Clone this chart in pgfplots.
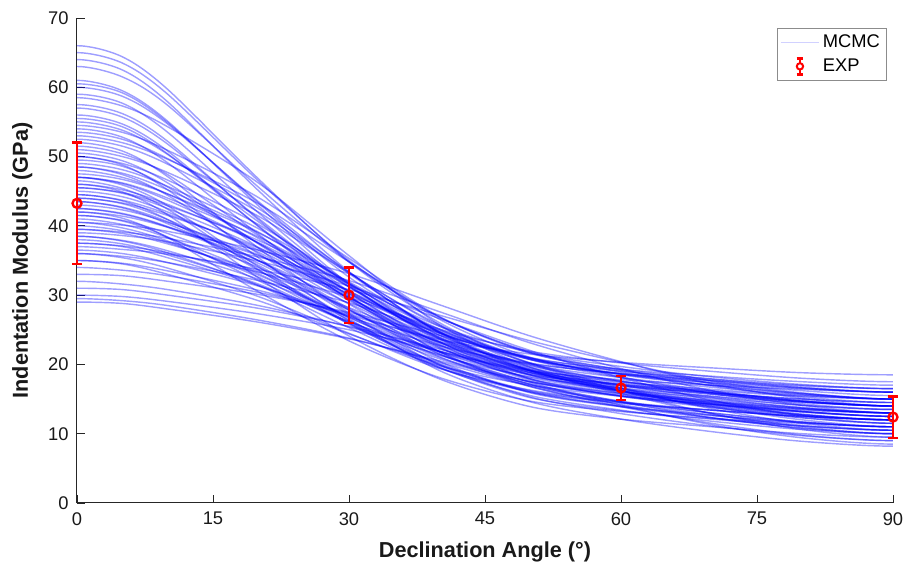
\documentclass[border=0pt]{standalone}
\usepackage{fontspec}
\setmainfont{Liberation Sans}
\usepackage{pgfplots}
\pgfplotsset{compat=1.18}
\pgfplotsset{
  base/.style={at={(0,0)}, anchor=south west,
    scale only axis, width=489.6pt, height=291pt,
    xmin=0, xmax=90, ymin=0, ymax=70},
  mc/.style={blue, opacity=0.38, line width=0.85pt, smooth, no markers, forget plot},
}
\begin{document}
\begin{tikzpicture}
\path[use as bounding box] (-46.2pt,-39.6pt) rectangle (496.8pt,301.8pt);
\begin{axis}[
  base,
  xtick={0,15,...,90}, ytick={0,10,...,70},
  axis x line*=bottom, axis y line*=left,
  axis line style={-, color=black!85, line width=0.6pt},
  tick align=inside, major tick length=5pt,
  tick style={color=black!85, line width=0.5pt},
  ticklabel style={font=\fontsize{11}{13}\selectfont, color=black!90},
  xticklabel style={yshift=-2pt},
  yticklabel style={xshift=-1.5pt},
  /pgf/number format/assume math mode=true,
  xlabel={Declination Angle (°)},
  ylabel={Indentation Modulus (GPa)},
  label style={font=\fontsize{13}{15}\selectfont\bfseries, color=black!90},
  xlabel style={at={(axis description cs:0.5,-0.101)}, anchor=center},
  ylabel style={at={(axis description cs:-0.067,0.5)}, anchor=center},
  clip=true,
]
\addplot[mc] coordinates {(-5,64.4)(0,66)(5,64.4)(10,59.7)(20,46.8)(30,34.8)(40,26.0)(50,20.2)(60,17.6)(70,16.1)(80,14.8)(90,14)(100,14.8)};
\addplot[mc] coordinates {(-5,63.5)(0,65)(5,63.5)(10,59.0)(20,46.5)(30,35.0)(40,26.5)(50,21.0)(60,18.5)(70,17.0)(80,15.8)(90,15)(100,15.8)};
\addplot[mc] coordinates {(-5,62.5)(0,64)(5,62.5)(10,57.9)(20,45.1)(30,33.4)(40,24.7)(50,19.1)(60,16.6)(70,15.0)(80,13.8)(90,13)(100,13.8)};
\addplot[mc] coordinates {(-5,61.5)(0,63)(5,61.5)(10,57.4)(20,45.6)(30,34.8)(40,26.8)(50,21.6)(60,19.3)(70,17.9)(80,16.7)(90,16)(100,16.7)};
\addplot[mc] coordinates {(-5,59.5)(0,61)(5,59.5)(10,55.1)(20,42.9)(30,31.6)(40,23.3)(50,17.9)(60,15.4)(70,14.0)(80,12.7)(90,12)(100,12.7)};
\addplot[mc] coordinates {(-5,59.2)(0,60.5)(5,59.2)(10,54.9)(20,43.3)(30,32.6)(40,24.7)(50,19.6)(60,17.3)(70,15.9)(80,14.7)(90,14)(100,14.7)};
\addplot[mc] coordinates {(-5,58.7)(0,60)(5,58.7)(10,54.7)(20,43.5)(30,33.3)(40,25.7)(50,20.8)(60,18.6)(70,17.3)(80,16.2)(90,15.5)(100,16.2)};
\addplot[mc] coordinates {(-5,57.7)(0,59)(5,57.7)(10,53.5)(20,41.9)(30,31.4)(40,23.6)(50,18.5)(60,16.2)(70,14.8)(80,13.7)(90,13)(100,13.7)};
\addplot[mc] coordinates {(-5,57.3)(0,58.5)(5,57.3)(10,54.3)(20,46.2)(30,35.7)(40,25.7)(50,19.6)(60,16.2)(70,13.9)(80,12.0)(90,11)(100,12.0)};
\addplot[mc] coordinates {(-5,55.7)(0,57)(5,55.7)(10,51.8)(20,41.1)(30,31.2)(40,23.9)(50,19.2)(60,17.0)(70,15.7)(80,14.6)(90,14)(100,14.6)};
\addplot[mc] coordinates {(-5,54.7)(0,56)(5,54.7)(10,50.8)(20,39.9)(30,29.9)(40,22.5)(50,17.7)(60,15.5)(70,14.2)(80,13.2)(90,12.5)(100,13.2)};
\addplot[mc] coordinates {(-5,53.8)(0,55)(5,53.8)(10,50.3)(20,40.6)(30,31.6)(40,25.0)(50,20.7)(60,18.7)(70,17.6)(80,16.6)(90,16)(100,16.6)};
\addplot[mc] coordinates {(-5,52.8)(0,54)(5,52.8)(10,49.1)(20,38.8)(30,29.4)(40,22.4)(50,17.9)(60,15.9)(70,14.6)(80,13.6)(90,13)(100,13.6)};
\addplot[mc] coordinates {(-5,52.0)(0,53)(5,52.0)(10,49.6)(20,43.2)(30,34.8)(40,26.8)(50,21.8)(60,19.2)(70,17.3)(80,15.8)(90,15)(100,15.8)};
\addplot[mc] coordinates {(-5,50.8)(0,52)(5,50.8)(10,47.1)(20,36.8)(30,27.4)(40,20.4)(50,15.9)(60,13.9)(70,12.6)(80,11.6)(90,11)(100,11.6)};
\addplot[mc] coordinates {(-5,50.0)(0,51)(5,50.0)(10,47.7)(20,41.4)(30,33.2)(40,25.5)(50,20.7)(60,18.1)(70,16.2)(80,14.7)(90,14)(100,14.7)};
\addplot[mc] coordinates {(-5,49.0)(0,50)(5,49.0)(10,46.6)(20,40.2)(30,31.8)(40,23.8)(50,18.8)(60,16.2)(70,14.3)(80,12.8)(90,12)(100,12.8)};
\addplot[mc] coordinates {(-5,48.6)(0,49.5)(5,48.6)(10,45.6)(20,37.5)(30,30.1)(40,24.5)(50,20.9)(60,19.3)(70,18.3)(80,17.5)(90,17)(100,17.5)};
\addplot[mc] coordinates {(-5,48.1)(0,49)(5,48.1)(10,45.7)(20,39.6)(30,31.7)(40,24.2)(50,19.5)(60,17.0)(70,15.2)(80,13.7)(90,13)(100,13.7)};
\addplot[mc] coordinates {(-5,47.0)(0,48)(5,47.0)(10,44.6)(20,38.2)(30,29.8)(40,21.8)(50,16.8)(60,14.2)(70,12.3)(80,10.8)(90,10)(100,10.8)};
\addplot[mc] coordinates {(-5,46.7)(0,47.5)(5,46.7)(10,44.6)(20,39.0)(30,31.9)(40,25.1)(50,20.9)(60,18.6)(70,17.0)(80,15.7)(90,15)(100,15.7)};
\addplot[mc] coordinates {(-5,45.9)(0,47)(5,45.9)(10,42.9)(20,34.1)(30,26.0)(40,20.1)(50,16.2)(60,14.5)(70,13.4)(80,12.5)(90,12)(100,12.5)};
\addplot[mc] coordinates {(-5,45.2)(0,46)(5,45.2)(10,43.1)(20,37.6)(30,30.6)(40,23.9)(50,19.8)(60,17.5)(70,15.9)(80,14.6)(90,14)(100,14.6)};
\addplot[mc] coordinates {(-5,44.8)(0,45.5)(5,44.8)(10,42.9)(20,37.9)(30,31.6)(40,25.5)(50,21.7)(60,19.7)(70,18.2)(80,17.1)(90,16.5)(100,17.1)};
\addplot[mc] coordinates {(-5,44.2)(0,45)(5,44.2)(10,42.0)(20,36.2)(30,28.7)(40,21.5)(50,17.1)(60,14.7)(70,13.0)(80,11.7)(90,11)(100,11.7)};
\addplot[mc] coordinates {(-5,43.7)(0,44.5)(5,43.7)(10,41.7)(20,36.5)(30,29.6)(40,23.1)(50,19.1)(60,16.9)(70,15.4)(80,14.1)(90,13.5)(100,14.1)};
\addplot[mc] coordinates {(-5,43.2)(0,44)(5,43.2)(10,40.9)(20,35.0)(30,27.2)(40,19.9)(50,15.3)(60,12.9)(70,11.1)(80,9.7)(90,9)(100,9.7)};
\addplot[mc] coordinates {(-5,42.3)(0,43)(5,42.3)(10,40.5)(20,35.8)(30,29.6)(40,23.7)(50,20.0)(60,18.1)(70,16.7)(80,15.6)(90,15)(100,15.6)};
\addplot[mc] coordinates {(-5,41.7)(0,42.5)(5,41.7)(10,39.8)(20,34.6)(30,27.9)(40,21.5)(50,17.5)(60,15.4)(70,13.8)(80,12.6)(90,12)(100,12.6)};
\addplot[mc] coordinates {(-5,41.4)(0,42)(5,41.4)(10,39.8)(20,35.7)(30,30.2)(40,25.1)(50,21.9)(60,20.2)(70,19.0)(80,18.0)(90,17.5)(100,18.0)};
\addplot[mc] coordinates {(-5,40.2)(0,41)(5,40.2)(10,38.3)(20,33.1)(30,26.4)(40,20.0)(50,16.0)(60,13.9)(70,12.3)(80,11.1)(90,10.5)(100,11.1)};
\addplot[mc] coordinates {(-5,40.1)(0,40.5)(5,40.1)(10,39.2)(20,36.5)(30,33.1)(40,28.6)(50,24.1)(60,20.4)(70,17.2)(80,15.1)(90,14)(100,15.1)};
\addplot[mc] coordinates {(-5,39.3)(0,40)(5,39.3)(10,37.6)(20,32.9)(30,26.8)(40,21.0)(50,17.5)(60,15.5)(70,14.2)(80,13.1)(90,12.5)(100,13.1)};
\addplot[mc] coordinates {(-5,38.9)(0,39.5)(5,38.9)(10,37.4)(20,33.4)(30,28.2)(40,23.3)(50,20.2)(60,18.6)(70,17.4)(80,16.5)(90,16)(100,16.5)};
\addplot[mc] coordinates {(-5,38.6)(0,39)(5,38.6)(10,37.7)(20,34.9)(30,31.3)(40,26.6)(50,22.0)(60,18.1)(70,14.8)(80,12.6)(90,11.5)(100,12.6)};
\addplot[mc] coordinates {(-5,37.4)(0,38)(5,37.4)(10,35.8)(20,31.6)(30,26.0)(40,20.8)(50,17.5)(60,15.8)(70,14.5)(80,13.5)(90,13)(100,13.5)};
\addplot[mc] coordinates {(-5,37.1)(0,37.5)(5,37.1)(10,36.1)(20,33.3)(30,29.7)(40,24.9)(50,20.1)(60,16.2)(70,12.9)(80,10.6)(90,9.5)(100,10.6)};
\addplot[mc] coordinates {(-5,36.6)(0,37)(5,36.6)(10,35.9)(20,33.7)(30,30.8)(40,27.1)(50,23.4)(60,20.3)(70,17.6)(80,15.9)(90,15)(100,15.9)};
\addplot[mc] coordinates {(-5,35.4)(0,36)(5,35.4)(10,33.9)(20,29.8)(30,24.5)(40,19.4)(50,16.3)(60,14.6)(70,13.4)(80,12.5)(90,12)(100,12.5)};
\addplot[mc] coordinates {(-5,34.6)(0,35)(5,34.6)(10,33.5)(20,30.7)(30,27.1)(40,23.6)(50,21.5)(60,20.3)(70,19.5)(80,18.8)(90,18.5)(100,18.8)};
\addplot[mc] coordinates {(-5,33.6)(0,34)(5,33.6)(10,32.8)(20,30.4)(30,27.3)(40,23.2)(50,19.1)(60,15.8)(70,12.9)(80,11.0)(90,10)(100,11.0)};
\addplot[mc] coordinates {(-5,32.8)(0,33)(5,32.8)(10,32.0)(20,30.1)(30,27.5)(40,24.2)(50,20.9)(60,18.2)(70,15.8)(80,14.3)(90,13.5)(100,14.3)};
\addplot[mc] coordinates {(-5,31.6)(0,32)(5,31.6)(10,30.8)(20,28.5)(30,25.4)(40,21.4)(50,17.4)(60,14.1)(70,11.3)(80,9.4)(90,8.5)(100,9.4)};
\addplot[mc] coordinates {(-5,30.8)(0,31)(5,30.8)(10,30.0)(20,28.1)(30,25.5)(40,22.2)(50,18.9)(60,16.2)(70,13.8)(80,12.3)(90,11.5)(100,12.3)};
\addplot[mc] coordinates {(-5,29.8)(0,30)(5,29.8)(10,29.1)(20,27.3)(30,25.0)(40,21.9)(50,18.8)(60,16.3)(70,14.2)(80,12.7)(90,12)(100,12.7)};
\addplot[mc] coordinates {(-5,29.2)(0,29.5)(5,29.2)(10,28.5)(20,26.4)(30,23.8)(40,20.3)(50,16.8)(60,13.9)(70,11.5)(80,9.8)(90,9)(100,9.8)};
\addplot[mc] coordinates {(-5,28.8)(0,29)(5,28.8)(10,28.0)(20,26.1)(30,23.7)(40,20.5)(50,17.2)(60,14.6)(70,12.3)(80,10.8)(90,10)(100,10.8)};
\addplot[mc] coordinates {(-5,42.6)(0,43.5)(5,42.6)(10,40.3)(20,34.3)(30,26.6)(40,19.1)(50,14.6)(60,12.1)(70,10.3)(80,8.9)(90,8.2)(100,8.9)};
\addplot[mc] coordinates {(-5,45.4)(0,46.5)(5,45.4)(10,42.4)(20,33.7)(30,25.8)(40,19.9)(50,16.1)(60,14.4)(70,13.4)(80,12.5)(90,12)(100,12.5)};
\addplot[mc] coordinates {(-5,47.4)(0,48.5)(5,47.4)(10,44.4)(20,36.0)(30,28.1)(40,22.3)(50,18.6)(60,16.9)(70,15.9)(80,15.0)(90,14.5)(100,15.0)};
\addplot[mc] coordinates {(-5,43.3)(0,44)(5,43.3)(10,41.5)(20,36.8)(30,30.6)(40,24.7)(50,21.0)(60,19.1)(70,17.7)(80,16.6)(90,16)(100,16.6)};
\addplot[mc] coordinates {(-5,41.1)(0,42)(5,41.1)(10,38.3)(20,30.5)(30,23.4)(40,18.1)(50,14.7)(60,13.2)(70,12.2)(80,11.5)(90,11)(100,11.5)};
\addplot[mc] coordinates {(-5,40.8)(0,41.5)(5,40.8)(10,38.9)(20,34.0)(30,27.8)(40,21.8)(50,18.1)(60,16.1)(70,14.7)(80,13.6)(90,13)(100,13.6)};
\addplot[mc] coordinates {(-5,46.1)(0,47)(5,46.1)(10,43.7)(20,37.5)(30,29.5)(40,21.8)(50,17.1)(60,14.5)(70,12.7)(80,11.2)(90,10.5)(100,11.2)};
\addplot[mc] coordinates {(-5,49.4)(0,50.5)(5,49.4)(10,46.2)(20,37.4)(30,29.2)(40,23.2)(50,19.3)(60,17.5)(70,16.4)(80,15.5)(90,15)(100,15.5)};
\addplot[mc] coordinates {(-5,37.9)(0,38.5)(5,37.9)(10,36.4)(20,32.3)(30,27.0)(40,21.9)(50,18.8)(60,17.1)(70,15.9)(80,15.0)(90,14.5)(100,15.0)};
\addplot[mc] coordinates {(-5,51.5)(0,52.5)(5,51.5)(10,48.9)(20,42.0)(30,33.1)(40,24.6)(50,19.3)(60,16.5)(70,14.4)(80,12.8)(90,12)(100,12.8)};
\addplot[mc] coordinates {(-5,36.0)(0,36.5)(5,36.0)(10,34.7)(20,31.3)(30,26.9)(40,22.7)(50,20.1)(60,18.7)(70,17.7)(80,16.9)(90,16.5)(100,16.9)};
\addplot[mc] coordinates {(-5,54.3)(0,55.5)(5,54.3)(10,50.4)(20,40.0)(30,30.3)(40,23.2)(50,18.5)(60,16.4)(70,15.2)(80,14.1)(90,13.5)(100,14.1)};
\addplot[mc] coordinates {(-5,52.5)(0,53.5)(5,52.5)(10,49.7)(20,42.5)(30,33.3)(40,24.5)(50,19.1)(60,16.1)(70,14.0)(80,12.3)(90,11.5)(100,12.3)};
\addplot[mc] coordinates {(-5,50.4)(0,51.5)(5,50.4)(10,47.4)(20,38.6)(30,30.5)(40,24.6)(50,20.7)(60,19.0)(70,17.9)(80,17.0)(90,16.5)(100,17.0)};
\addplot[mc] coordinates {(-5,48.8)(0,50)(5,48.8)(10,45.2)(20,35.4)(30,26.3)(40,19.6)(50,15.2)(60,13.3)(70,12.1)(80,11.1)(90,10.5)(100,11.1)};
\addplot[mc] coordinates {(-5,47.6)(0,48.5)(5,47.6)(10,45.2)(20,39.1)(30,31.2)(40,23.7)(50,19.0)(60,16.5)(70,14.7)(80,13.2)(90,12.5)(100,13.2)};
\addplot[mc] coordinates {(-5,46.2)(0,47)(5,46.2)(10,44.0)(20,38.4)(30,31.2)(40,24.2)(50,19.9)(60,17.6)(70,16.0)(80,14.7)(90,14)(100,14.7)};
\addplot[mc] coordinates {(-5,44.9)(0,46)(5,44.9)(10,41.6)(20,32.5)(30,24.1)(40,17.9)(50,13.9)(60,12.1)(70,11.0)(80,10.0)(90,9.5)(100,10.0)};
\addplot[mc] coordinates {(-5,44.7)(0,45.5)(5,44.7)(10,42.5)(20,36.9)(30,29.7)(40,22.7)(50,18.4)(60,16.1)(70,14.5)(80,13.2)(90,12.5)(100,13.2)};
\addplot[mc] coordinates {(-5,43.6)(0,44.5)(5,43.6)(10,40.9)(20,33.6)(30,26.8)(40,21.8)(50,18.5)(60,17.1)(70,16.2)(80,15.4)(90,15)(100,15.4)};
\addplot[mc] coordinates {(-5,42.7)(0,43.5)(5,42.7)(10,40.6)(20,35.0)(30,27.9)(40,21.1)(50,16.9)(60,14.6)(70,13.0)(80,11.7)(90,11)(100,11.7)};
\addplot[mc] coordinates {(-5,41.8)(0,42.5)(5,41.8)(10,39.9)(20,35.0)(30,28.8)(40,22.8)(50,19.1)(60,17.1)(70,15.7)(80,14.6)(90,14)(100,14.6)};
\addplot[mc] coordinates {(-5,40.7)(0,41.5)(5,40.7)(10,38.4)(20,32.1)(30,26.2)(40,21.9)(50,19.1)(60,17.8)(70,17.0)(80,16.4)(90,16)(100,16.4)};
\addplot[mc] coordinates {(-5,39.7)(0,40.5)(5,39.7)(10,37.8)(20,32.6)(30,25.9)(40,19.5)(50,15.5)(60,13.4)(70,11.8)(80,10.6)(90,10)(100,10.6)};
\addplot[mc] coordinates {(-5,39.1)(0,39.5)(5,39.1)(10,38.2)(20,35.5)(30,32.1)(40,27.6)(50,23.1)(60,19.4)(70,16.2)(80,14.1)(90,13)(100,14.1)};
\addplot[mc] coordinates {(-5,37.8)(0,38.5)(5,37.8)(10,36.1)(20,31.4)(30,25.3)(40,19.5)(50,16.0)(60,14.0)(70,12.7)(80,11.6)(90,11)(100,11.6)};
\addplot[mc] coordinates {(-5,37.0)(0,37.5)(5,37.0)(10,35.4)(20,31.4)(30,26.2)(40,21.3)(50,18.2)(60,16.6)(70,15.4)(80,14.5)(90,14)(100,14.5)};
\addplot[mc] coordinates {(-5,35.6)(0,36)(5,35.6)(10,34.7)(20,32.1)(30,28.9)(40,24.5)(50,20.2)(60,16.6)(70,13.6)(80,11.5)(90,10.5)(100,11.5)};
\addplot[mc] coordinates {(-5,34.5)(0,35)(5,34.5)(10,33.0)(20,29.2)(30,24.4)(40,19.8)(50,17.0)(60,15.4)(70,14.3)(80,13.4)(90,13)(100,13.4)};
\addplot[mc] coordinates {(-5,53.5)(0,54.5)(5,53.5)(10,50.9)(20,44.1)(30,35.3)(40,26.9)(50,21.7)(60,18.9)(70,16.9)(80,15.3)(90,14.5)(100,15.3)};
\addplot[mc] coordinates {(-5,56.2)(0,57.5)(5,56.2)(10,52.2)(20,40.9)(30,30.5)(40,22.9)(50,17.9)(60,15.7)(70,14.3)(80,13.2)(90,12.5)(100,13.2)};
\end{axis}
\begin{axis}[
  base, hide axis, clip=false,
  legend style={at={(axis description cs:0.9926,0.979)}, anchor=north east,
    draw=black!45, fill=white, font=\fontsize{11}{13}\selectfont,
    inner sep=2pt, row sep=1pt},
  legend cell align=left,
]
\addlegendimage{blue!18, line width=0.8pt,
  legend image code/.code={\draw[blue!18, line width=0.8pt] (0cm,0cm) -- (0.8cm,0cm);}}
\addlegendentry{MCMC}
\addplot[red, line width=1.5pt, mark=o, mark size=2.7pt, only marks,
  mark options={line width=1.4pt, fill=none},
  legend image code/.code={
    \draw[red, line width=1.5pt] (0.4cm,-0.17cm) -- (0.4cm,0.17cm);
    \draw[red, line width=1.5pt] (0.33cm,-0.17cm) -- (0.47cm,-0.17cm) (0.33cm,0.17cm) -- (0.47cm,0.17cm);
    \draw[red, line width=1.2pt, fill=white] (0.4cm,0cm) circle (1.9pt);
  },
  error bars/.cd, y dir=both, y explicit,
  error bar style={line width=1.5pt, red},
  error mark options={rotate=90, mark size=3pt, line width=1.5pt, red}]
  coordinates {(0,43.25) +- (0,8.75) (30,30) +- (0,4) (60,16.6) +- (0,1.7) (90,12.4) +- (0,3)};
\addlegendentry{EXP}
\end{axis}
\end{tikzpicture}
\end{document}
